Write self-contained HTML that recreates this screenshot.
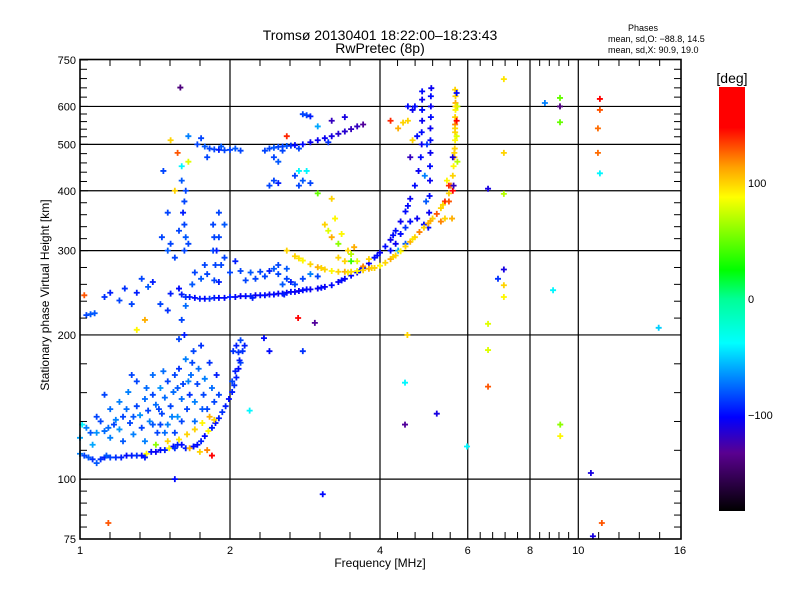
<!DOCTYPE html>
<html><head><meta charset="utf-8">
<style>
html,body{margin:0;padding:0;background:#fff;}
svg{display:block;font-family:"Liberation Sans",sans-serif;}
</style></head>
<body>
<svg id="chart" width="800" height="600" viewBox="0 0 800 600">
  <rect x="0" y="0" width="800" height="600" fill="#fff"/>
  <text x="380" y="40" text-anchor="middle" font-size="14">Tromsø 20130401 18:22:00–18:23:43</text>
  <text x="380" y="53" text-anchor="middle" font-size="14">RwPretec (8p)</text>
  <text x="643" y="31" text-anchor="middle" font-size="9">Phases</text>
  <text x="608" y="42" font-size="9">mean, sd,O: −88.8, 14.5</text>
  <text x="608" y="53" font-size="9">mean, sd,X:  90.9, 19.0</text>
  <g id="grid"></g>
  <g id="marks"></g>
  <rect x="80" y="59.5" width="601" height="479.5" fill="none" stroke="#000" stroke-width="1.6"/>
  <g id="axes"></g>
  <text transform="translate(49,295) rotate(-90)" text-anchor="middle" font-size="12">Stationary phase Virtual Height [km]</text>
  <text x="380" y="567" text-anchor="middle" font-size="12">Frequency [MHz]</text>
  <defs><linearGradient id="cbar" x1="0" y1="1" x2="0" y2="0"></linearGradient></defs>
  <rect x="719" y="87" width="26" height="424" fill="url(#cbar)"/>
  <text x="732" y="83" text-anchor="middle" font-size="14">[deg]</text>
  <g id="cbticks"></g>
</svg>
<script>
const xTickLabels = [1, 2, 4, 6, 8, 10, 16];
const yTickLabels = [75, 100, 200, 300, 400, 500, 600, 750];
const yGridValues = [100, 200, 300, 400, 500, 600];
const xGridValues = [2, 4, 6, 8, 10];
const cbTickValues = [100, 0, -100];
const phaseStops = [-183, -133, -102, -38, 0, 25, 88, 114, 148, 183];
const phaseColors = ["#000000", "#5a0090", "#0000ff", "#00ffff", "#00ff96", "#00ff00", "#ffff00", "#ffa000", "#ff0000", "#ff0000"];

// [freqMHz, heightKm, phaseDeg]
const eTrace = [[1.0,113,-70],[1.02,112,-85],[1.04,111,-80],[1.06,110,-90],[1.08,108,-80],[1.1,110,-90],[1.12,111,-95],[1.15,111,-85],[1.18,111,-90],[1.21,111,-95],[1.24,112,-100],[1.27,112,-95],[1.3,112,-90],[1.33,112,-100],[1.36,113,90],[1.39,114,-100],[1.42,114,-105],[1.45,115,-100],[1.48,115,-95],[1.51,116,90],[1.54,117,-100],[1.57,118,-95],[1.6,118,-100],[1.63,116,-95],[1.66,116,110],[1.69,117,-100],[1.72,118,-100],[1.75,120,-95],[1.78,123,-100],[1.81,126,90],[1.84,128,-95],[1.87,131,-100],[1.9,134,-95],[1.93,138,-90],[1.96,142,-95],[1.99,147,-100],[2.02,152,-95],[2.04,157,-90],[2.06,163,-95],[2.08,170,-100],[2.09,177,-95],[2.08,184,-90],[2.06,190,-95],[1.13,112,-80],[1.35,111,-95],[1.55,116,-90]];
const eYellow = [[1.58,121,95],[1.64,124,100],[1.7,127,100],[1.76,131,90],[1.82,135,110],[1.74,114,100],[1.8,115,120],[1.86,133,100],[1.5,120,100],[1.42,118,60]];
const eCloud = [[1.0,122,-60],[1.01,130,-40],[1.03,128,-70],[1.05,125,-80],[1.08,125,-65],[1.1,132,-85],[1.12,126,-75],[1.15,122,-70],[1.17,130,-85],[1.2,127,-65],[1.22,135,-85],[1.24,140,-75],[1.26,131,-85],[1.28,124,-70],[1.3,142,-85],[1.32,136,-65],[1.33,128,-85],[1.35,147,-75],[1.37,139,-85],[1.38,132,-70],[1.4,150,-85],[1.42,143,-75],[1.43,125,-85],[1.45,155,-65],[1.46,137,-85],[1.48,148,-75],[1.5,160,-85],[1.5,130,-70],[1.52,142,-85],[1.54,152,-75],[1.55,165,-85],[1.57,135,-65],[1.58,170,-90],[1.6,147,-75],[1.61,158,-85],[1.63,178,-70],[1.64,140,-85],[1.66,150,-90],[1.67,165,-75],[1.69,185,-85],[1.7,145,-70],[1.72,158,-85],[1.73,170,-75],[1.75,190,-90],[1.77,150,-85],[1.78,162,-70],[1.8,140,-85],[1.82,175,-90],[1.84,155,-75],[1.86,145,-85],[1.88,165,-95],[1.9,150,-85],[1.25,152,-70],[1.15,140,-75],[1.08,135,-85],[1.3,160,-85],[1.4,165,-75],[1.45,130,-85],[1.35,120,-70],[1.55,125,-85],[1.7,132,-75],[1.62,200,-95],[1.6,215,-85],[1.63,230,-75],[1.58,196,-85],[2.02,160,-85],[2.05,168,-95],[2.1,175,-85],[2.12,185,-90],[2.14,190,-95],[2.1,195,-85],[2.03,185,-90],[1.47,168,-75],[1.2,145,-70],[1.12,150,-85],[1.27,165,-85],[1.18,133,-70],[1.28,135,-80],[1.36,155,-75],[1.44,140,-85],[1.53,135,-70],[1.6,132,-85],[1.65,160,-70],[1.76,140,-80],[1.68,175,-85],[1.57,155,-80],[1.48,125,-75],[1.22,120,-80],[1.06,118,-60],[1.14,128,-75],[1.4,130,-80]];
const lowF = [[1.03,220,-85],[1.05,221,-80],[1.12,240,-90],[1.15,245,-95],[1.2,236,-85],[1.23,250,-90],[1.27,232,-85],[1.3,245,-95],[1.33,262,-85],[1.37,252,-80],[1.4,258,-95],[1.45,232,-85],[1.5,225,-90],[1.52,244,-95],[1.02,242,130],[1.35,215,110],[1.3,205,90],[1.07,222,-80]];
const oTrace = [[1.58,250,-100],[1.6,243,-95],[1.63,240,-90],[1.66,240,-95],[1.7,239,-100],[1.74,238,-95],[1.78,238,-100],[1.82,238,-90],[1.86,239,-95],[1.9,239,-100],[1.95,239,-100],[2.0,240,-95],[2.05,240,-100],[2.1,241,-105],[2.15,241,-100],[2.2,241,-95],[2.25,242,-105],[2.3,242,-100],[2.35,242,-100],[2.4,243,-105],[2.45,243,-100],[2.5,244,-105],[2.55,244,-100],[2.6,245,-105],[2.65,246,-100],[2.7,246,-105],[2.75,247,-105],[2.8,248,-100],[2.9,249,-105],[3.0,250,-105],[3.1,252,-105],[3.2,254,-100],[3.3,258,-105],[3.4,262,-105],[3.5,266,-100],[3.6,270,-105],[3.7,276,-100],[3.8,282,-105],[3.9,290,-100],[4.0,297,-105],[4.1,306,-100],[4.2,316,-105],[4.3,330,-100],[4.4,345,-105],[4.5,362,-100],[4.6,385,-105],[4.7,410,-100],[4.78,440,-105],[4.83,470,-100],[4.85,500,-105],[4.85,530,-100],[4.86,560,-105],[4.86,590,-100],[4.86,620,-105],[4.86,645,-100],[2.22,239,-95],[2.57,243,-95],[2.85,249,-100],[3.05,251,-100],[3.35,260,-100],[3.65,273,-100],[3.95,293,-100],[4.25,323,-100],[4.55,372,-100]];
const oSecond = [[4.2,300,-100],[4.3,310,-105],[4.4,325,-100],[4.5,335,-90],[4.6,345,-100],[4.75,350,-105],[4.9,340,-100],[5.0,335,-100],[5.02,360,-105],[5.03,390,-100],[5.04,420,-105],[5.04,450,-100],[5.05,480,-105],[5.05,510,-100],[5.05,540,-105],[5.06,570,-100],[5.06,600,-105],[5.06,630,-100],[5.07,655,-105],[4.95,380,-80],[4.92,430,-70],[4.97,500,-90],[4.7,600,-100],[4.65,590,-105],[4.55,600,-100],[4.6,470,-120],[4.75,520,-100],[4.5,310,-80],[4.35,300,-60]];
const fUpper = [[1.7,270,-85],[1.75,262,-80],[1.8,268,-85],[1.9,258,-95],[2.0,270,-85],[2.1,272,-85],[2.2,270,-80],[2.3,271,-85],[2.4,272,-95],[2.5,268,-85],[2.6,262,-85],[2.65,258,-95],[2.7,255,-85],[2.6,275,-80],[2.5,280,-85],[1.95,290,-85],[2.05,285,-95],[1.85,300,-85],[1.9,320,-85],[1.95,340,-80],[1.92,280,-85],[2.15,260,-85],[2.35,265,-85],[2.45,275,-80],[2.8,262,-85],[2.9,268,-70],[3.0,265,-85],[1.62,300,-85],[1.63,320,-80],[1.62,340,-85],[1.61,360,-95],[1.62,380,-85],[1.63,400,-85],[1.6,420,-80],[1.65,310,-85],[1.58,330,-85],[1.86,260,-85],[1.87,280,-85],[1.88,300,-95],[1.86,320,-85],[1.85,340,-85],[1.9,360,-85],[1.46,320,-85],[1.5,300,-80],[1.52,310,-85],[1.55,290,-85],[1.5,360,-85],[1.55,400,100],[1.6,450,-40],[1.57,480,130],[1.47,440,-85],[1.52,510,100],[1.65,460,80],[1.68,255,-80],[1.78,280,-85],[2.25,262,-85],[2.55,255,-80]];
const upperTrace = [[1.72,500,-85],[1.78,495,-80],[1.82,490,-85],[1.86,488,-85],[1.9,487,-95],[1.95,486,-85],[2.0,487,-85],[2.05,490,-80],[2.1,485,-85],[1.75,515,-85],[1.8,470,-85],[1.65,520,-70],[2.35,485,-85],[2.4,490,-85],[2.45,492,-80],[2.5,494,-85],[2.55,495,-85],[2.6,496,-80],[2.65,497,-90],[2.7,498,-100],[2.8,500,-100],[2.9,505,-105],[3.0,510,-105],[3.1,515,-105],[3.2,520,-110],[3.3,526,-115],[3.4,532,-115],[3.5,538,-120],[3.6,545,-120],[3.7,550,-130],[2.45,470,-85],[2.5,460,-80],[2.4,410,-85],[2.45,420,-85],[2.5,415,-95],[2.75,410,-85],[2.8,420,-80],[2.9,415,-85],[2.85,575,-85],[2.9,572,-95],[2.8,578,-85],[2.7,430,-85],[2.75,440,-40],[2.85,440,-40],[3.2,560,-120],[3.4,570,-110],[3.0,545,-60],[2.6,520,140],[2.55,485,-85],[2.75,490,-85],[3.15,505,-90],[1.92,495,-80]];
const xTrace = [[2.6,300,100],[2.7,292,100],[2.8,286,90],[2.9,281,100],[3.0,277,110],[3.1,274,100],[3.2,272,90],[3.3,271,100],[3.4,271,110],[3.5,271,100],[3.6,272,90],[3.7,273,100],[3.8,275,110],[3.9,276,100],[4.0,279,90],[4.1,283,100],[4.2,288,110],[4.3,293,100],[4.4,299,90],[4.5,306,100],[4.6,313,110],[4.7,320,100],[4.8,328,120],[4.9,335,100],[5.0,342,110],[5.1,350,100],[5.2,358,130],[5.3,368,100],[5.4,380,140],[5.5,395,100],[5.55,410,120],[5.6,430,100],[5.62,450,90],[5.64,470,110],[5.65,490,100],[5.66,510,90],[5.66,530,100],[5.66,550,120],[5.66,570,100],[5.67,590,90],[5.67,610,110],[5.67,630,100],[5.66,650,100],[5.5,410,140],[5.45,420,90],[5.5,380,130],[5.6,400,150],[5.7,520,80],[5.72,460,70],[5.58,350,110],[5.4,350,100],[5.3,345,120],[5.72,600,70],[5.7,560,150],[5.6,470,-110],[5.62,410,-120],[5.7,640,-100],[2.75,289,95],[3.05,276,100],[3.45,270,95],[3.85,276,100],[4.25,291,100],[4.65,317,95],[5.05,346,110],[5.35,374,100],[5.64,480,100],[5.66,540,100],[5.67,600,95]];
const xCluster = [[3.1,340,100],[3.15,330,80],[3.2,320,110],[3.3,310,60],[3.35,325,90],[3.45,300,100],[3.5,295,70],[3.55,305,110],[3.25,350,90],[3.4,285,100],[3.6,285,80],[3.3,290,100],[3.7,278,120],[3.5,285,40],[3.8,288,100],[4.45,555,100],[4.55,560,100],[4.35,540,110],[4.2,560,140],[4.65,510,100],[3.2,385,100],[3.0,395,50]];
const outliers = [[7.09,684,95],[7.09,480,100],[7.09,394,70],[6.59,404,-110],[8.57,610,-70],[9.19,625,50],[9.19,600,-140],[9.19,556,50],[11.05,622,150],[11.05,590,130],[10.95,540,125],[10.95,480,125],[11.05,435,-40],[7.09,274,-110],[6.9,262,-90],[7.09,254,100],[7.09,240,90],[6.59,211,80],[8.9,248,-40],[14.5,207,-50],[6.59,186,80],[6.59,156,130],[5.98,117,-40],[9.2,130,60],[9.2,123,90],[10.6,103,-110],[11.15,81,130],[10.7,76,-110],[1.59,657,-140],[3.07,93,-100],[4.49,130,-130],[4.49,159,-40],[4.54,200,100],[5.2,137,-110],[2.74,217,150],[2.96,212,-130],[2.8,185,-90],[2.34,197,-100],[2.19,139,-40],[1.14,81,130],[1.55,100,-100],[1.84,112,150],[2.4,185,-100]];

const groups = [eCloud, lowF, eTrace, eYellow, fUpper, oTrace, oSecond, upperTrace, xCluster, xTrace, outliers];

const NS = "http://www.w3.org/2000/svg";
function xS(f){ return 80 + 150*Math.log2(f); }
function yS(h){ return 539 - 479*Math.log10(h/75); }
function cS(p){ return 87 + (183 - p)*424/366; }
function hex(c){ return [parseInt(c.substr(1,2),16),parseInt(c.substr(3,2),16),parseInt(c.substr(5,2),16)]; }
function colorOf(p){
  if(p<=phaseStops[0]) return phaseColors[0];
  for(let i=1;i<phaseStops.length;i++){
    if(p<=phaseStops[i]){
      const t=(p-phaseStops[i-1])/(phaseStops[i]-phaseStops[i-1]);
      const a=hex(phaseColors[i-1]), b=hex(phaseColors[i]);
      return "rgb("+a.map((v,k)=>Math.round(v+(b[k]-v)*t)).join(",")+")";
    }
  }
  return phaseColors[phaseColors.length-1];
}
function mk(tag, attrs, parent){
  const e=document.createElementNS(NS,tag);
  for(const k in attrs) e.setAttribute(k,attrs[k]);
  parent.appendChild(e); return e;
}
const grid=document.getElementById("grid");
xGridValues.forEach(v=>{
  const l=mk("line",{x1:xS(v),x2:xS(v),y1:59,y2:539,stroke:"#000","stroke-width":1.2},grid);
  
  
});
yGridValues.forEach(v=>{
  const l=mk("line",{x1:80,x2:681,y1:yS(v),y2:yS(v),stroke:"#000","stroke-width":1.2},grid);
  
  
});
const axes=document.getElementById("axes");
for(let i=0;i<xTickLabels.length;i++){
  const x=xS(xTickLabels[i]);
  const t=mk("text",{x:x,y:554,"text-anchor":"middle","font-size":11},axes);
  t.textContent=xTickLabels[i];
  
  
  if(i<xTickLabels.length-1){
    const x2=xS(xTickLabels[i+1]);
    for(let k=1;k<5;k++){
      const xx=x+(x2-x)*k/5;
      const a=mk("line",{x1:xx,x2:xx,y1:539,y2:532,stroke:"#000","stroke-width":1},axes);
      
      
      const b=mk("line",{x1:xx,x2:xx,y1:59,y2:66,stroke:"#000","stroke-width":1},axes);
      
      
    }
  }
}
for(let i=0;i<yTickLabels.length;i++){
  const y=yS(yTickLabels[i]);
  const t=mk("text",{x:76,y:y+4,"text-anchor":"end","font-size":11},axes);
  t.textContent=yTickLabels[i];
  
  
  const m=mk("line",{x1:80,x2:88,y1:y,y2:y,stroke:"#000","stroke-width":1},axes);
  
  
  if(i<yTickLabels.length-1){
    const y2=yS(yTickLabels[i+1]);
    for(let k=1;k<5;k++){
      const yy=y+(y2-y)*k/5;
      const a=mk("line",{x1:80,x2:87,y1:yy,y2:yy,stroke:"#000","stroke-width":1},axes);
      
      
      const b=mk("line",{x1:681,x2:674,y1:yy,y2:yy,stroke:"#000","stroke-width":1},axes);
      
      
    }
  }
}
const marks=document.getElementById("marks");
groups.forEach(g=>{
  g.forEach(p=>{
    const x=xS(p[0]), y=yS(p[1]);
    if(x<80||x>681||y<59||y>539) return;
    const d="M"+(x-3)+" "+y+"H"+(x+3)+"M"+x+" "+(y-3)+"V"+(y+3);
    const e=mk("path",{d:d,stroke:colorOf(p[2]),"stroke-width":1.8,fill:"none"},marks);
    
    
  });
});
const grad=document.getElementById("cbar");
phaseStops.forEach((s,i)=>{
  const st=mk("stop",{offset:((s+183)/366).toFixed(4),"stop-color":phaseColors[i]},grad);
  
  
});
const cbt=document.getElementById("cbticks");
cbTickValues.forEach(v=>{
  const t=mk("text",{x:748,y:cS(v)+4,"font-size":11},cbt);
  t.textContent=v<0?"−"+Math.abs(v):v;
  
  
});
</script>
</body></html>
